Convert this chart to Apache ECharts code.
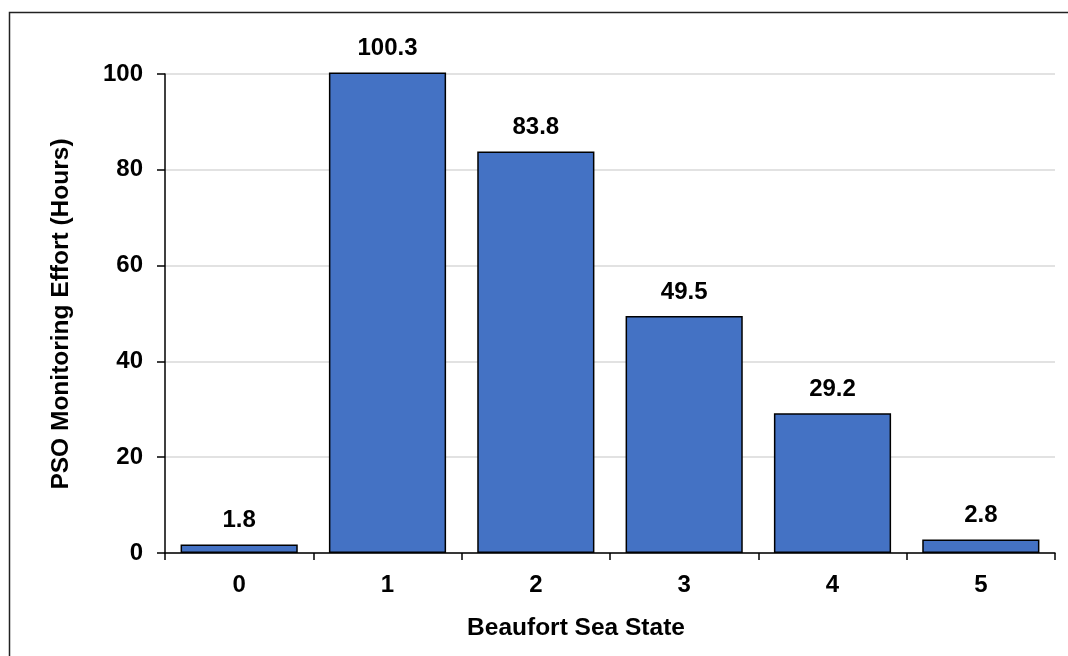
<!DOCTYPE html>
<html>
<head>
<meta charset="utf-8">
<script src="https://cdn.jsdelivr.net/npm/echarts@6/dist/echarts.min.js"></script>
<style>html,body{margin:0;padding:0;background:#fff;}#c{width:1068px;height:656px;}</style>
</head>
<body>
<div id="c"></div>
<script>
const categories = ['0', '1', '2', '3', '4', '5'];
const effortHours = [1.8, 100.3, 83.8, 49.5, 29.2, 2.8];
const yTicks = [0, 20, 40, 60, 80, 100];
const xTitle = 'Beaufort Sea State';
const yTitle = 'PSO Monitoring Effort (Hours)';

const FONT = 'Liberation Sans, Arial, sans-serif';
const chart = echarts.init(document.getElementById('c'), null, {renderer: 'canvas'});
chart.setOption({
  animation: false,
  backgroundColor: '#fff',
  grid: {left: 165, right: 13, top: 74, bottom: 103, containLabel: false},
  graphic: [
    {type: 'rect', shape: {x: 9.5, y: 12.5, width: 1100, height: 700}, style: {fill: 'none', stroke: '#222', lineWidth: 1.5}, silent: true},
    {type: 'text', x: 576, y: 628, style: {text: xTitle, font: 'bold 24.5px ' + FONT, fill: '#000', align: 'center', verticalAlign: 'middle'}},
    {type: 'text', x: 61, y: 314, rotation: Math.PI / 2, style: {text: yTitle, font: 'bold 24.5px ' + FONT, fill: '#000', align: 'center', verticalAlign: 'middle'}}
  ],
  xAxis: {
    type: 'category',
    data: categories,
    boundaryGap: true,
    axisLine: {lineStyle: {color: '#000', width: 1.5}},
    axisTick: {show: true, inside: false, length: 7, alignWithLabel: false, lineStyle: {color: '#000', width: 1.5}},
    axisLabel: {color: '#000', fontWeight: 'bold', fontSize: 24, fontFamily: FONT, margin: 20},
    splitLine: {show: false}
  },
  yAxis: {
    type: 'value',
    min: yTicks[0],
    max: yTicks[yTicks.length - 1],
    interval: yTicks[1] - yTicks[0],
    axisLine: {show: true, lineStyle: {color: '#000', width: 1.5}},
    axisTick: {show: true, length: 8, lineStyle: {color: '#000', width: 1.5}},
    axisLabel: {color: '#000', fontWeight: 'bold', fontSize: 24, fontFamily: FONT, margin: 22},
    splitLine: {show: true, lineStyle: {color: '#d9d9d9', width: 1.5}}
  },
  series: [{
    type: 'bar',
    data: effortHours,
    clip: false,
    barCategoryGap: '21%',
    itemStyle: {color: '#4472C4', borderColor: '#000', borderWidth: 1.5},
    label: {
      show: true,
      position: 'top',
      distance: 12,
      color: '#000',
      fontWeight: 'bold',
      fontSize: 24,
      fontFamily: FONT,
      formatter: p => p.value.toFixed(1)
    }
  }]
});
</script>
</body>
</html>
